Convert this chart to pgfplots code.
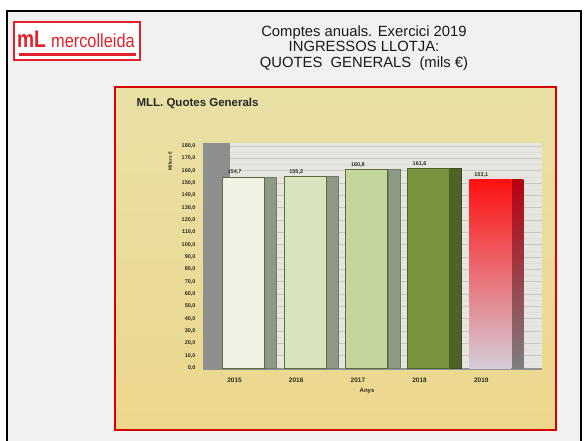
\documentclass[border=0pt]{standalone}
\usepackage{fontspec}
\setmainfont{Liberation Sans}
\usepackage{pgfplots}
\pgfplotsset{compat=1.18}

\definecolor{mlred}{HTML}{E3222C}
\definecolor{pagegray}{HTML}{F1F1F1}
\definecolor{goldtop}{HTML}{E9E0A6}
\definecolor{goldmid}{HTML}{D8B95C}
\definecolor{goldbot}{HTML}{ECD78C}
\definecolor{wallc}{HTML}{E7E5E0}
\definecolor{sidewall}{HTML}{8E8E8E}
\definecolor{floorc}{HTML}{8F9094}
\definecolor{edge}{HTML}{5B6B3C}
\definecolor{fa}{HTML}{EEF3E3}
\definecolor{fb}{HTML}{D7E4BD}
\definecolor{fc}{HTML}{C3D69B}
\definecolor{fd}{HTML}{77933C}
\definecolor{sa}{HTML}{8D9985}
\definecolor{sd}{HTML}{4F6228}
\definecolor{redtop}{HTML}{FF1010}
\definecolor{redmid}{HTML}{EE8088}
\definecolor{redbot}{HTML}{D4CCD8}
\definecolor{sredtop}{HTML}{B80010}
\definecolor{sredbot}{HTML}{7E7E80}
\definecolor{txt}{HTML}{2E2E1E}

\begin{document}
\begin{tikzpicture}[x=1pt,y=1pt]
\useasboundingbox (0,0) rectangle (584,441);
\fill[white] (0,0) rectangle (584,441);
\fill[pagegray] (7,0) rectangle (581,430);
\draw[black, line width=2pt] (7,-2)--(7,430)--(581,430)--(581,-2);

% logo
\draw[mlred, line width=1.2pt, fill=white] (14,381) rectangle (140,419);
\fill[mlred] (19,385) rectangle (136,388);
\node[anchor=west, text=mlred, inner sep=0pt, font=\fontsize{24}{24}\selectfont\bfseries, xscale=0.8] at (17,402) {mL};
\node[anchor=west, text=mlred, inner sep=0pt, font=\fontsize{19}{19}\selectfont, xscale=0.86] at (51,400) {mercolleida};

% title
\node[align=center, text=black!90, font=\fontsize{14.8}{15.5}\selectfont] at (364,393)
  {Comptes anuals. Exercici 2019\\INGRESSOS LLOTJA:\\QUOTES\ \ GENERALS\ \ (mils €)};

% panel
\shade[top color=goldtop, middle color=goldmid, bottom color=goldbot] (115,11) rectangle (556,354);
\draw[red!85!black, line width=1.6pt] (115,11) rectangle (556,354);
\node[anchor=west, text=black!85, font=\fontsize{11.5}{12}\selectfont\bfseries] at (133,338) {MLL. Quotes Generals};

\begin{axis}[
    at={(203pt,70.5pt)}, anchor=south west,
    scale only axis, width=339pt, height=227.6pt,
    xmin=-0.511, xmax=4.984, ymin=-2, ymax=182.5,
    axis line style={draw=none},
    major tick length=0pt, minor tick length=0pt,
    axis background/.style={fill=wallc},
    clip=false,
    xtick={0,1,2,3,4},
    xticklabels={2015,2016,2017,2018,2019},
    ytick={0,10,...,180},
    minor y tick num=1,
    ymajorgrids, yminorgrids,
    major grid style={draw=black!22, line width=0.5pt},
    minor grid style={draw=black!13, line width=0.5pt},
    /pgf/number format/assume math mode=true,
    yticklabel={\pgfmathprintnumber[fixed,fixed zerofill,precision=1,use comma]{\tick}},
    yticklabel style={font=\fontsize{5.5}{6}\selectfont\bfseries, text=txt, xshift=-4pt},
    xticklabel style={font=\fontsize{6.5}{7}\selectfont\bfseries, text=txt, yshift=-4pt},
    xlabel={Anys},
    xlabel style={font=\fontsize{6}{7}\selectfont\bfseries, text=txt, at={(axis description cs:0.484,0)}, anchor=center, yshift=-21pt},
    every node near coord/.append style={font=\fontsize{5.5}{6}\selectfont\bfseries, text=txt, inner sep=2pt},
    nodes near coords={\pgfmathprintnumber[fixed,fixed zerofill,precision=1,use comma]{\pgfplotspointmeta}},
  ]
  % side wall and floor
  \fill[sidewall] (rel axis cs:0,0) rectangle (rel axis cs:0.0797,1);
  \fill[floorc] (axis cs:-0.511,-2) rectangle (axis cs:4.984,0);
  \node[rotate=90, font=\fontsize{5}{6}\selectfont\bfseries, text=txt] at (rel axis cs:-0.097,0.92) {Milers €};

  % 2015
  \addplot[ybar, bar width=12pt, bar shift=36pt, fill=sa, draw=sa!80!black, nodes near coords=] coordinates {(0,154.7)};
  \addplot[ybar, bar width=42pt, bar shift=9pt, fill=fa, draw=edge, line width=0.9pt] coordinates {(0,154.7)};
  % 2016
  \addplot[ybar, bar width=12pt, bar shift=36pt, fill=sa, draw=sa!80!black, nodes near coords=] coordinates {(1,155.2)};
  \addplot[ybar, bar width=42pt, bar shift=9pt, fill=fb, draw=edge, line width=0.9pt] coordinates {(1,155.2)};
  % 2017
  \addplot[ybar, bar width=12pt, bar shift=36pt, fill=sa, draw=sa!80!black, nodes near coords=] coordinates {(2,160.8)};
  \addplot[ybar, bar width=42pt, bar shift=9pt, fill=fc, draw=edge, line width=0.9pt] coordinates {(2,160.8)};
  % 2018
  \addplot[ybar, bar width=12pt, bar shift=36pt, fill=sd, draw=sd!80!black, nodes near coords=] coordinates {(3,161.6)};
  \addplot[ybar, bar width=42pt, bar shift=9pt, fill=fd, draw=sd, line width=0.9pt] coordinates {(3,161.6)};
  % 2019
  \addplot[ybar, bar width=12pt, bar shift=36pt, top color=sredtop, bottom color=sredbot, draw=none, nodes near coords=] coordinates {(4,153.1)};
  \addplot[ybar, bar width=42pt, bar shift=9pt, top color=redtop, middle color=redmid, bottom color=redbot, draw=none] coordinates {(4,153.1)};
\end{axis}
\end{tikzpicture}
\end{document}
